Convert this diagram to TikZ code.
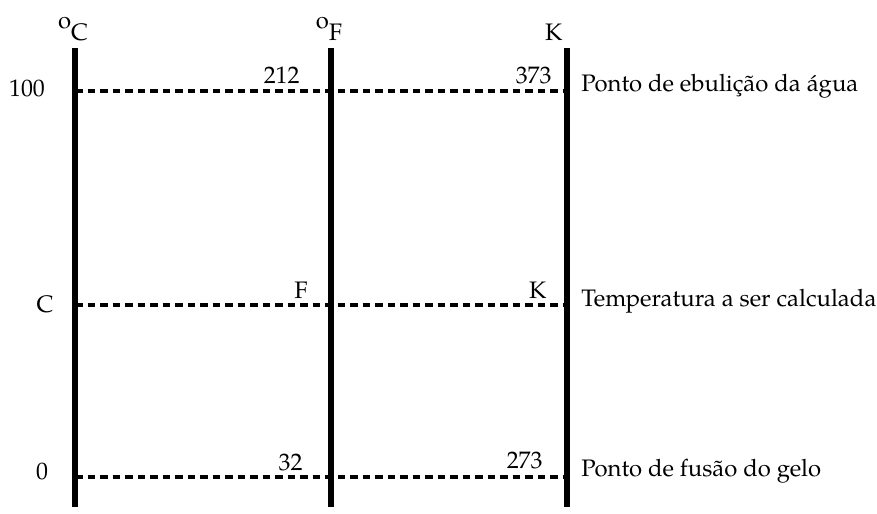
\documentclass[tikz,border=0pt]{standalone}
\usepackage{fontspec}
\setmainfont{TeX Gyre Pagella}
\usetikzlibrary{positioning}
\tikzset{
  % thick vertical line = one thermometer scale
  scaleline/.style={line width=2.3pt},
  % dashed line = one fixed temperature
  levelline/.style={line width=1.6pt, dash pattern=on 3.4pt off 2.1pt},
  % text placed by its baseline
  lbl/.style={inner sep=0pt, anchor=base #1},
  lbl/.default={},
}
\newcommand{\degsign}{\raisebox{5pt}{o}}

\begin{document}
\begin{tikzpicture}[x=0.44pt,y=-0.44pt,font=\fontsize{10.5}{13}\selectfont]
  \useasboundingbox (0,0) rectangle (877,513);
  % end points of the scales and of the level lines
  \foreach \n/\x in {C/75,F/331,K/567} {
    \coordinate (\n top) at (\x,48);
    \coordinate (\n bot) at (\x,507);
  }
  \foreach \n/\y in {boil/91,calc/305,melt/477} {
    \coordinate (C\n) at (75,\y);
    \coordinate (K\n) at (567,\y);
  }
  \foreach \n in {boil,calc,melt}
    \draw[levelline] (C\n) -- (K\n);
  \foreach \n in {C,F,K}
    \draw[scaleline] (\n top) -- (\n bot);
  % units
  \node[lbl] (unitC) at (73,40) {\degsign C};
  \node[lbl] (unitF) at (329,40) {\degsign F};
  \node[lbl=east] (unitK) at (563,40) {K};
  % Celsius values
  \node[inner sep=0pt] (boilC) at (27,88) {100};
  \node[inner sep=0pt] (calcC) at (45,304) {C};
  \node[inner sep=0pt] (meltC) at (42,472) {0};
  % Fahrenheit and Kelvin values
  \node[lbl=east] (boilF) at (300,83) {212};
  \node[lbl=east] (boilK) at (552,83) {373};
  \node[lbl=east] (calcF) at (308,298) {F};
  \node[lbl=east] (calcK) at (547,298) {K};
  \node[lbl=east] (meltF) at (303,470) {32};
  \node[lbl=east] (meltK) at (543,468) {273};
  % meaning of each line
  \node[lbl=west] (boiltxt) at (581,91) {Ponto de ebulição da água};
  \node[lbl=west] (calctxt) at (581,306) {Temperatura a ser calculada};
  \node[lbl=west] (melttxt) at (581,476) {Ponto de fusão do gelo};
\end{tikzpicture}
\end{document}
